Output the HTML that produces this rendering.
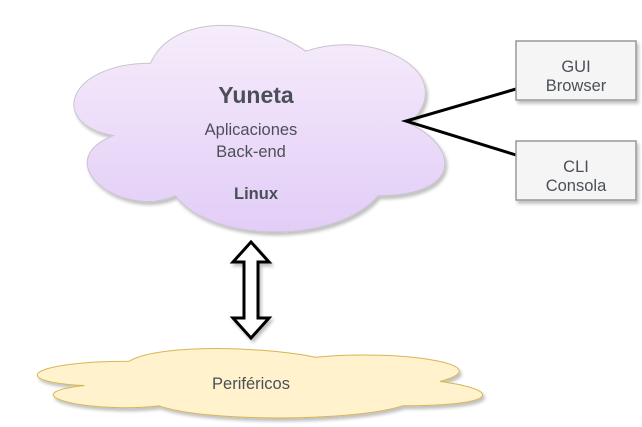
<!DOCTYPE html>
<html><head><meta charset="utf-8"><style>
html,body{margin:0;padding:0;background:#fff;width:642px;height:427px;overflow:hidden}
svg{display:block}
text{font-family:"Liberation Sans",sans-serif;fill:#4b5058}
</style></head><body>
<svg width="642" height="427" viewBox="0 0 642 427" xmlns="http://www.w3.org/2000/svg">
<defs>
<linearGradient id="pg" x1="0" y1="0" x2="0" y2="1"><stop offset="0" stop-color="#f6ecfb"/><stop offset="1" stop-color="#e2cdf7"/></linearGradient>
<filter id="sh" x="-10%" y="-10%" width="130%" height="130%"><feGaussianBlur in="SourceAlpha" stdDeviation="1.5"/><feOffset dx="2" dy="3"/><feComponentTransfer><feFuncA type="linear" slope="0.25"/></feComponentTransfer><feMerge><feMergeNode/><feMergeNode in="SourceGraphic"/></feMerge></filter>
</defs>
<g filter="url(#sh)">
<path d="M150.5,63.25 C67.7,63.25 47,123.5 113.2,135.6 C47,162 121.5,219.9 175.3,195.8 C212.6,244 336.8,244 378.2,195.8 C461,195.8 461,147.6 409.25,123.5 C461,75.3 378.2,27.1 305.75,51.2 C254,15 171.2,15 150.5,63.25 Z" fill="url(#pg)" stroke="#c9c4cc" stroke-width="1"/>
<path d="M129.25,361.25 C29.85,361.25 5,381.5 84.5,385.55 C5,394.5 94.5,413.9 159.1,405.8 C203.8,422 352.9,422 402.6,405.8 C502,405.8 502,389.6 439.9,381.5 C502,365.3 402.6,349.1 315.6,357.2 C253.5,345.05 154.1,345.05 129.25,361.25 Z" fill="#fff2cc" stroke="#d6b656" stroke-width="1"/>
</g>
<polyline points="516,89 406,121 516,155" fill="none" stroke="#000" stroke-width="3"/>
<g filter="url(#sh)">
<rect x="516" y="41" width="120" height="59" fill="#f5f5f5" stroke="#999" stroke-width="1.5"/>
<rect x="516" y="141" width="120" height="59" fill="#f5f5f5" stroke="#999" stroke-width="1.5"/>
<path d="M251,242 L269,262 L258,262 L258,318 L269,318 L251,338 L233,318 L244,318 L244,262 L233,262 Z" fill="#fff" stroke="#000" stroke-width="3" stroke-linejoin="miter"/>
</g>
<text x="256" y="103" font-size="23" font-weight="bold" text-anchor="middle">Yuneta</text>
<text x="251" y="135" font-size="16.5" text-anchor="middle">Aplicaciones</text>
<text x="251" y="157" font-size="16.5" text-anchor="middle">Back-end</text>
<text x="256" y="199" font-size="16.5" font-weight="bold" text-anchor="middle">Linux</text>
<text x="576" y="72" font-size="16.5" text-anchor="middle">GUI</text>
<text x="576" y="91" font-size="16.5" text-anchor="middle">Browser</text>
<text x="576" y="172" font-size="16.5" text-anchor="middle">CLI</text>
<text x="576" y="191" font-size="16.5" text-anchor="middle">Consola</text>
<text x="251" y="389" font-size="16.5" text-anchor="middle">Periféricos</text>
</svg>
</body></html>
